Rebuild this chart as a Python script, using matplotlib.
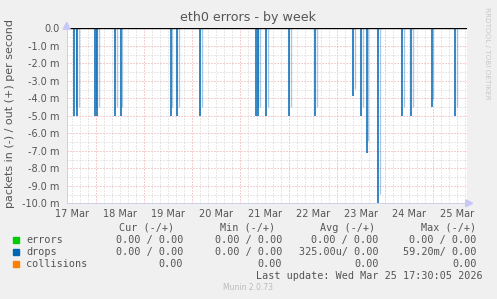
import matplotlib
matplotlib.use("Agg")
import matplotlib.pyplot as plt
from matplotlib.ticker import FixedLocator, FuncFormatter
import numpy as np

# ---- data (time in days since 17 Mar 00:00, drops in packets/s, negative = in) ----
drop_times = [0.550, 0.607, 0.974, 1.028, 1.396, 1.514, 2.553, 2.690, 3.168,
              4.325, 4.373, 4.533, 5.011, 5.557, 6.346, 6.506, 6.624, 6.865,
              7.358, 7.551, 7.975, 8.459]
drop_values = [-0.0050, -0.0050, -0.0050, -0.0050, -0.0050, -0.0050, -0.0050, -0.0050, -0.0050,
               -0.0050, -0.0050, -0.0050, -0.0050, -0.0050, -0.00385, -0.0050, -0.00715, -0.0105,
               -0.0050, -0.0050, -0.0045, -0.0050]
day_labels = ["17 Mar", "18 Mar", "19 Mar", "20 Mar", "21 Mar", "22 Mar", "23 Mar", "24 Mar", "25 Mar"]
y_ticks = [0.0, -0.001, -0.002, -0.003, -0.004, -0.005, -0.006, -0.007, -0.008, -0.009, -0.010]

legend_names = ["errors", "drops", "collisions"]
legend_colors = ["#00CC00", "#0066B3", "#FF8000"]
cur = ["0.00 / 0.00", "0.00 / 0.00", "0.00"]
mins = ["0.00 / 0.00", "0.00 / 0.00", "0.00"]
avgs = ["0.00 / 0.00", "325.00u/ 0.00", "0.00"]
maxs = ["0.00 / 0.00", "59.20m/ 0.00", "0.00"]

W, H = 497, 299
fig = plt.figure(figsize=(W / 100, H / 100), dpi=100)
fig.patch.set_facecolor("#F0F0F0")

x0, x1 = 66.7, 466.7
ytop, ybot = 28.3, 203.3
ax = fig.add_axes([x0 / W, 1 - ybot / H, (x1 - x0) / W, (ybot - ytop) / H])
ax.set_facecolor("white")
ax.set_xlim(0.39, 8.70)
ax.set_ylim(-0.010, 0.0)

txt = "#555555"
px = 0.72  # one pixel in points

# grid
minor_x = np.arange(0, 9, 1 / 6)
major_x = np.arange(1, 9, 1.0)
for xv in minor_x:
    if abs(xv - round(xv)) > 1e-6:
        ax.axvline(xv, color="#D0D0D0", lw=px, ls=(0, (1, 2)), zorder=1)
for xv in major_x:
    ax.axvline(xv, color="#E8A0A0", lw=px, ls=(0, (1, 2)), zorder=1)
for yv in np.arange(-0.0095, 0, 0.001):
    ax.axhline(yv, color="#D0D0D0", lw=px, ls=(0, (1, 2)), zorder=1)
for yv in y_ticks[1:]:
    ax.axhline(yv, color="#E8A0A0", lw=px, ls=(0, (1, 2)), zorder=1)

# drops (negative side)
ax.vlines(drop_times, drop_values, 0, color="#0066B3", lw=1.1, zorder=3)
ax.vlines(np.array(drop_times) + 0.03, np.array(drop_values) * 0.9, 0,
          color="#0066B3", lw=1.0, alpha=0.35, zorder=2)
ax.axhline(0, color="black", lw=1.0, zorder=4)

# ticks
ax.xaxis.set_major_locator(FixedLocator([i + 0.5 for i in range(len(day_labels))]))
ax.set_xticklabels(day_labels)
ax.yaxis.set_major_locator(FixedLocator(y_ticks))

def fmt(v, pos):
    if abs(v) < 1e-12:
        return "0.0"
    return f"{v * 1000:.1f} m"

ax.yaxis.set_major_formatter(FuncFormatter(fmt))
ax.tick_params(axis="both", length=0, labelsize=7, colors=txt, pad=5)
ax.tick_params(axis="x", pad=4)
for s in ["top", "right"]:
    ax.spines[s].set_visible(False)
ax.spines["left"].set_color("#D0D0E8")
ax.spines["bottom"].set_color("#D0D0E8")
ax.spines["left"].set_linewidth(px)
ax.spines["bottom"].set_linewidth(px)

# axis arrows
fig.patches.append(plt.Polygon([[(x1 - 1) / W, 1 - (ybot - 3.5) / H], [(x1 + 6) / W, 1 - ybot / H],
                                [(x1 - 1) / W, 1 - (ybot + 3.5) / H]], closed=True,
                               transform=fig.transFigure, color="#C8C8F8", zorder=5))
fig.patches.append(plt.Polygon([[(x0 - 3.5) / W, 1 - (ytop + 1) / H], [x0 / W, 1 - (ytop - 6) / H],
                                [(x0 + 3.5) / W, 1 - (ytop + 1) / H]], closed=True,
                               transform=fig.transFigure, color="#C8C8F8", zorder=5))

# title and labels
fig.text(248 / W, 1 - 18 / H, "eth0 errors - by week", ha="center", va="center",
         fontsize=9.1, color=txt)
fig.text(10 / W, 1 - 114 / H, "packets in (-) / out (+) per second", rotation=90,
         ha="center", va="center", fontsize=8.0, color=txt)
fig.text(487 / W, 1 - 53 / H, "RRDTOOL / TOBI OETIKER", rotation=270,
         ha="center", va="center", fontsize=5.2, color="#C8C8C8")

# legend table
mono = "DejaVu Sans Mono"
fs = 7.3
fig.text(174.3 / W, 1 - 227.7 / H, "Cur (-/+)", ha="right", va="center", family=mono, fontsize=fs, color=txt)
fig.text(275 / W, 1 - 227.7 / H, "Min (-/+)", ha="right", va="center", family=mono, fontsize=fs, color=txt)
fig.text(375 / W, 1 - 227.7 / H, "Avg (-/+)", ha="right", va="center", family=mono, fontsize=fs, color=txt)
fig.text(476 / W, 1 - 227.7 / H, "Max (-/+)", ha="right", va="center", family=mono, fontsize=fs, color=txt)
cols = [(183.3, cur), (282, mins), (378.7, avgs), (476.7, maxs)]
for i, name in enumerate(legend_names):
    yy = 1 - (239.7 + 12 * i) / H
    fig.patches.append(plt.Rectangle(((13) / W, yy - 3 / H), 6 / W, 6 / H, transform=fig.transFigure,
                                     color=legend_colors[i]))
    fig.text(26 / W, yy, name, ha="left", va="center", family=mono, fontsize=fs, color=txt)
    for xr, vals in cols:
        fig.text(xr / W, yy, vals[i], ha="right", va="center", family=mono, fontsize=fs, color=txt)
fig.text(482.7 / W, 1 - 275.7 / H, "Last update: Wed Mar 25 17:30:05 2026", ha="right", va="center",
         family=mono, fontsize=fs, color=txt)
fig.text(248 / W, 1 - 288 / H, "Munin 2.0.73", ha="center", va="center", fontsize=5.5, color="#BBBBBB")

fig.savefig("out.png", dpi=100, facecolor=fig.get_facecolor())
